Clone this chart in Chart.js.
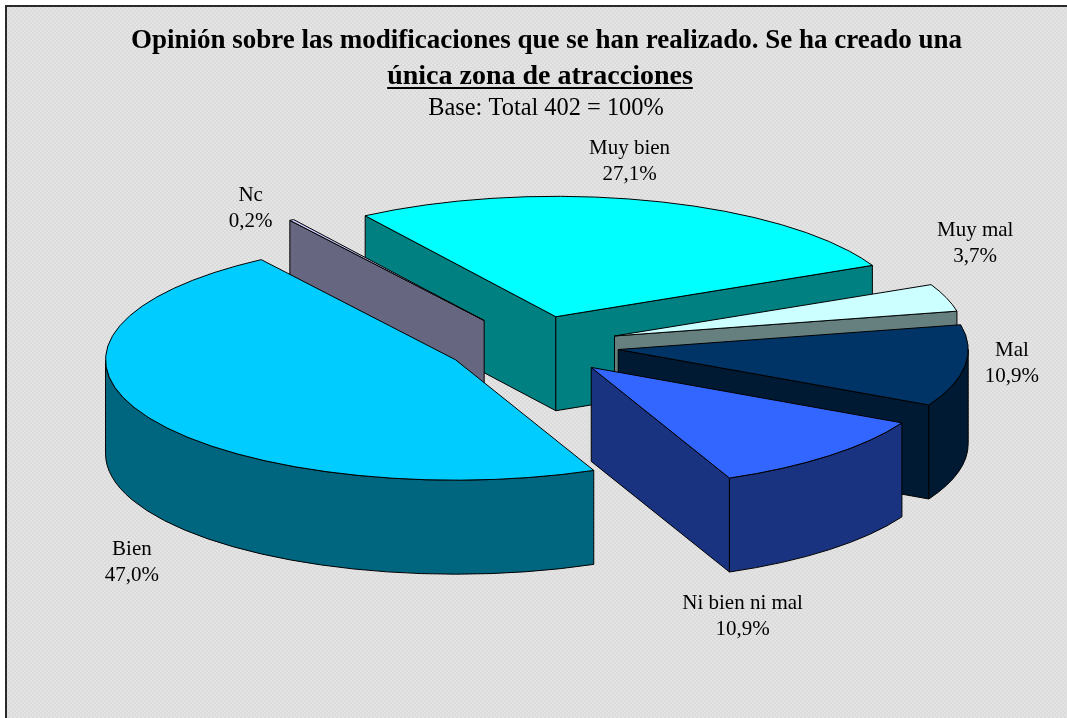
<!DOCTYPE html>
<html>
<head>
<meta charset="utf-8">
<title>Opinión sobre las modificaciones</title>
<script src="https://cdn.jsdelivr.net/npm/chart.js@4"></script>
<style>
    html, body { margin: 0; padding: 0; background: #fff; overflow: hidden; }
    canvas { display: block; }
</style>
</head>
<body>
<canvas id="pieChart" width="1067" height="718"></canvas>
<script>
const categories = ['Muy bien', 'Muy mal', 'Mal', 'Ni bien ni mal', 'Bien', 'Nc'];
const percentages = [27.1, 3.7, 10.9, 10.9, 47.0, 0.2];
const topColors = ['#00FFFF', '#CCFFFF', '#003366', '#3366FF', '#00CCFF', '#CCCCFF'];
const wallColors = ['#008080', '#668080', '#001A33', '#1A3380', '#006680', '#666680'];
const titleLine1 = 'Opinión sobre las modificaciones que se han realizado. Se ha creado una';
const titleLine2 = 'única zona de atracciones';
const baseLine = 'Base: Total 402 = 100%';

// back to front, the slices overlap each other
const drawOrder = [0, 1, 2, 5, 4, 3];
// label shift from the exploded rim of each slice
const labelShift = [[-22, -41], [29, -56], [47, -4], [-87, 159], [-16, 144], [-41, -13]];

const CX = 532, CY = 345.5;   // centre of the pie before exploding
const RADIUS = 350;
const TILT = 0.344;           // ellipse ratio of the top face
const DEPTH = 94;             // wall height
const EXPLODE = 87;

function makeBackground(ctx) {
    const tile = document.createElement('canvas');
    tile.width = tile.height = 4;
    const t = tile.getContext('2d');
    t.fillStyle = '#E4E4E4';
    t.fillRect(0, 0, 4, 4);
    t.fillStyle = '#DBDBDB';
    t.fillRect(0, 0, 2, 2);
    t.fillRect(2, 2, 2, 2);
    return ctx.createPattern(tile, 'repeat');
}

function drawWalls(ctx, start, end, x, y, color) {
    ctx.fillStyle = color;
    ctx.strokeStyle = '#000';
    ctx.lineWidth = 1;

    const quad = function (a) {
        const px = x + RADIUS * Math.cos(a);
        const py = y + RADIUS * TILT * Math.sin(a);
        ctx.beginPath();
        ctx.moveTo(x, y);
        ctx.lineTo(px, py);
        ctx.lineTo(px, py + DEPTH);
        ctx.lineTo(x, y + DEPTH);
        ctx.closePath();
        ctx.fill();
        ctx.stroke();
    };
    // radial cut faces, only if they look towards the viewer
    if (Math.sin(start - Math.PI / 2) > 0) quad(start);
    if (Math.sin(end + Math.PI / 2) > 0) quad(end);

    // rim, only the front half of the ellipse shows
    [0, 2 * Math.PI].forEach(function (w) {
        const a0 = Math.max(start, w);
        const a1 = Math.min(end, w + Math.PI);
        if (a1 <= a0) return;
        ctx.beginPath();
        ctx.ellipse(x, y, RADIUS, RADIUS * TILT, 0, a0, a1);
        ctx.ellipse(x, y + DEPTH, RADIUS, RADIUS * TILT, 0, a1, a0, true);
        ctx.closePath();
        ctx.fill();
        ctx.stroke();
    });
}

const tiltedPie = {
    id: 'tiltedPie',
    beforeDraw(chart) {
        const ctx = chart.ctx;
        ctx.save();
        ctx.fillStyle = '#fff';
        ctx.fillRect(0, 0, chart.width, chart.height);
        ctx.fillStyle = makeBackground(ctx);
        ctx.fillRect(6, 7, chart.width - 6, chart.height - 7);
        ctx.fillStyle = '#2a2a2a';
        ctx.fillRect(5, 5, chart.width - 5, 2);
        ctx.fillRect(5, 5, 2, chart.height - 5);
        ctx.restore();
    },
    beforeDatasetDraw(chart, args) {
        const ctx = chart.ctx;
        const arcs = args.meta.data;
        drawOrder.forEach(function (i) {
            const arc = arcs[i];
            const mid = (arc.startAngle + arc.endAngle) / 2;
            const x = CX + EXPLODE * Math.cos(mid);
            const y = CY + EXPLODE * TILT * Math.sin(mid);

            drawWalls(ctx, arc.startAngle, arc.endAngle, x, y, wallColors[i]);

            // the library's own arc, squashed onto the ellipse
            ctx.save();
            ctx.translate(x, y);
            ctx.scale(1, TILT);
            ctx.translate(-arc.x, -arc.y);
            arc.draw(ctx);
            ctx.restore();

            ctx.save();
            ctx.strokeStyle = '#000';
            ctx.lineWidth = 1;
            ctx.beginPath();
            ctx.moveTo(x, y);
            ctx.ellipse(x, y, RADIUS, RADIUS * TILT, 0, arc.startAngle, arc.endAngle);
            ctx.closePath();
            ctx.stroke();
            ctx.restore();
        });
        return false;
    },
    afterDraw(chart) {
        const ctx = chart.ctx;
        const arcs = chart.getDatasetMeta(0).data;
        ctx.save();
        ctx.textAlign = 'center';
        ctx.textBaseline = 'alphabetic';
        ctx.fillStyle = '#000';

        ctx.font = 'bold 27px "Liberation Serif"';
        ctx.fillText(titleLine1, 546.5, 48);
        ctx.font = 'bold 28px "Liberation Serif"';
        ctx.fillText(titleLine2, 540, 84);
        const w = ctx.measureText(titleLine2).width;
        ctx.fillRect(540 - w / 2, 87, w, 2);
        ctx.font = '24.4px "Liberation Serif"';
        ctx.fillText(baseLine, 546, 115);

        ctx.font = '21px "Liberation Serif"';
        categories.forEach(function (name, i) {
            const mid = (arcs[i].startAngle + arcs[i].endAngle) / 2;
            const r = RADIUS + EXPLODE;
            const x = CX + r * Math.cos(mid) + labelShift[i][0];
            const y = CY + r * TILT * Math.sin(mid) + labelShift[i][1];
            ctx.fillText(name, x, y - 6);
            ctx.fillText(percentages[i].toFixed(1).replace('.', ',') + '%', x, y + 20);
        });
        ctx.restore();
    }
};

new Chart(document.getElementById('pieChart').getContext('2d'), {
    type: 'pie',
    data: {
        labels: categories,
        datasets: [{
            data: percentages,
            backgroundColor: topColors,
            borderWidth: 0
        }]
    },
    options: {
        responsive: false,
        animation: false,
        rotation: 327,
        radius: RADIUS,
        plugins: {
            legend: { display: false },
            tooltip: { enabled: false }
        }
    },
    plugins: [tiltedPie]
});
</script>
</body>
</html>
